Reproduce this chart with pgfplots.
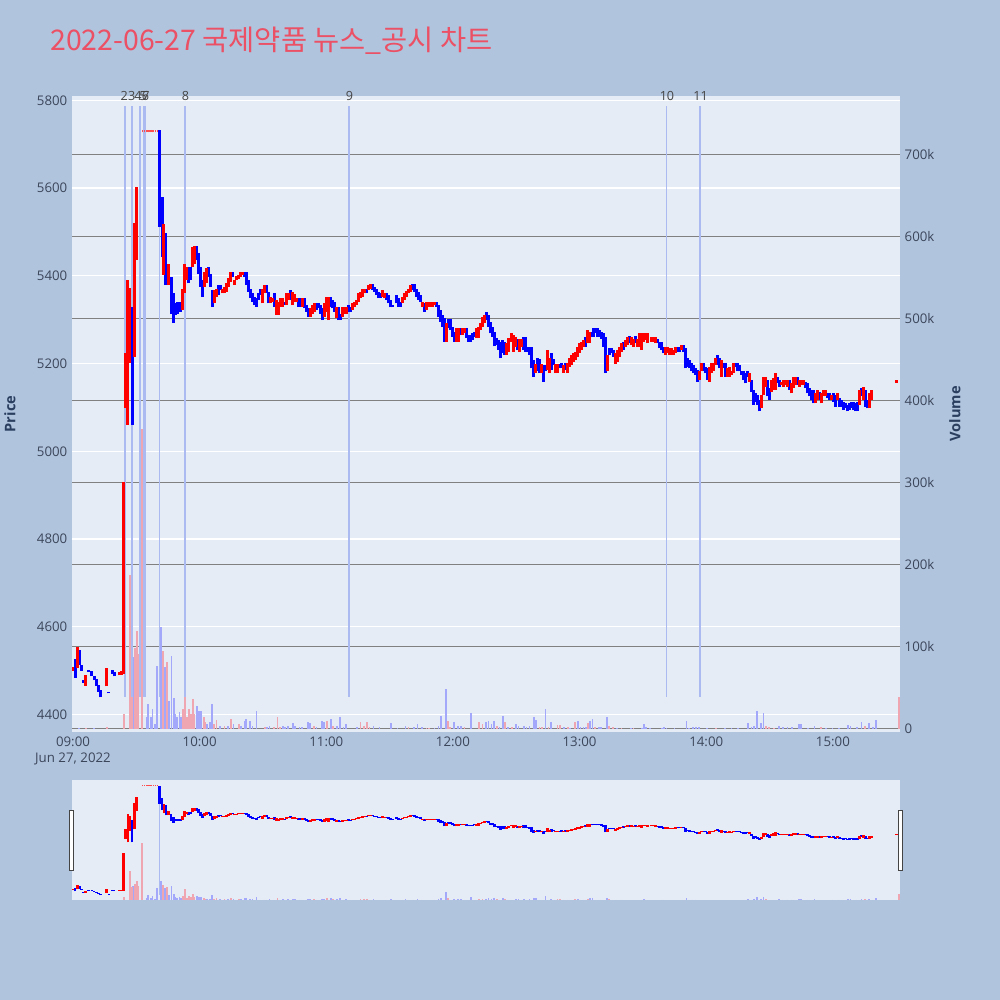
\documentclass[border=0pt]{standalone}
\usepackage{fontspec}
\setmainfont{Open Sans}
\newfontfamily\cjk{Noto Sans CJK KR}
\usepackage{pgfplots}
\usepackage{pgfplotstable}
\pgfplotsset{compat=1.18}

\definecolor{pagebg}{RGB}{176,196,222}
\definecolor{plotbg}{RGB}{229,236,246}
\definecolor{cred}{RGB}{255,0,0}
\definecolor{cblue}{RGB}{0,0,255}
\definecolor{vred}{RGB}{240,166,176}
\definecolor{vblue}{RGB}{163,168,250}
\definecolor{newsc}{RGB}{172,186,242}
\definecolor{tickc}{RGB}{60,70,90}
\definecolor{annc}{RGB}{68,68,68}
\definecolor{titlec}{RGB}{235,80,100}
\definecolor{axtitle}{RGB}{42,63,95}
\definecolor{vgrid}{RGB}{128,128,128}

\pgfplotstableread{
x lo hi
0 4498 4509
2 4507 4553
6 4466 4491
16 4464 4505
22 4489 4496
23 4491 4498
24 4493 4930
25 5099 5224
26 5060 5390
27 5201 5372
29 5215 5520
30 5436 5602
43.1 5402 5519
45.2 5379 5428
52.0 5322 5371
52.9 5360 5428
53.8 5390 5421
56.5 5421 5466
57.5 5428 5468
62.2 5375 5409
63.2 5383 5417
67.0 5337 5367
67.9 5352 5371
70.7 5360 5371
71.7 5360 5375
72.6 5364 5383
73.6 5375 5394
74.5 5386 5409
76.4 5379 5390
77.4 5390 5399
78.3 5392 5402
79.3 5398 5409
80.2 5402 5409
89.7 5337 5371
90.6 5360 5379
93.5 5337 5352
94.4 5341 5349
96.3 5311 5345
97.3 5311 5341
98.2 5330 5349
99.2 5330 5349
101.1 5333 5360
102.0 5345 5360
103.9 5333 5364
104.8 5341 5358
105.8 5341 5349
108.6 5330 5349
112.4 5307 5326
113.4 5314 5333
114.3 5318 5339
119.1 5307 5339
120.0 5318 5352
121.0 5299 5352
124.7 5303 5330
127.6 5307 5330
128.5 5314 5330
129.5 5314 5330
132.3 5322 5337
133.3 5330 5341
134.2 5333 5346
135.2 5341 5360
136.1 5349 5364
137.1 5352 5371
138.0 5360 5371
139.9 5368 5379
140.9 5369 5381
146.6 5352 5368
147.5 5349 5360
156.0 5337 5352
157.0 5345 5360
157.9 5351 5366
158.9 5360 5371
159.8 5364 5379
165.5 5330 5341
167.4 5322 5341
168.3 5330 5341
169.3 5330 5341
170.2 5330 5341
171.2 5333 5341
176.9 5250 5292
181.6 5250 5280
182.6 5250 5280
184.4 5265 5280
185.4 5269 5280
191.1 5258 5280
192.0 5258 5284
193.0 5276 5292
193.9 5284 5307
194.9 5292 5311
205.3 5220 5246
206.2 5227 5258
207.6 5250 5269
208.7 5227 5265
209.7 5238 5261
211.6 5227 5257
212.5 5238 5257
219.2 5178 5200
222.0 5178 5200
224.8 5185 5231
225.8 5178 5212
228.6 5178 5200
229.6 5178 5200
232.4 5178 5197
234.3 5178 5202
235.3 5193 5212
236.2 5197 5220
237.2 5204 5223
238.1 5208 5227
239.1 5216 5238
240.0 5223 5246
241.0 5231 5250
241.9 5238 5254
243.8 5246 5276
244.7 5246 5273
253.3 5182 5220
257.1 5200 5223
258.0 5204 5231
259.0 5216 5238
259.9 5227 5246
261.8 5238 5254
262.7 5242 5261
264.6 5242 5261
265.6 5238 5257
267.5 5238 5257
268.4 5238 5269
269.4 5231 5269
270.3 5250 5269
271.3 5254 5269
272.2 5246 5269
274.1 5250 5261
275.1 5250 5261
276.0 5246 5261
280.7 5220 5238
281.7 5223 5238
282.6 5220 5235
283.6 5220 5235
284.5 5220 5231
285.5 5223 5238
288.1 5231 5242
296.8 5163 5182
297.8 5182 5201
301.6 5159 5193
302.5 5178 5201
303.4 5182 5201
304.4 5197 5212
307.2 5170 5208
310.1 5170 5189
311.0 5170 5193
312.0 5174 5182
312.9 5178 5201
320.5 5159 5178
326.2 5098 5128
327.1 5128 5170
328.1 5147 5170
330.9 5136 5163
331.9 5140 5166
332.8 5140 5178
335.7 5151 5159
336.6 5147 5163
337.6 5151 5163
338.5 5147 5163
340.4 5132 5155
341.3 5144 5170
342.3 5151 5170
344.2 5147 5163
345.1 5151 5163
346.1 5151 5163
351.8 5109 5132
352.7 5117 5140
354.6 5109 5132
355.6 5125 5140
356.5 5125 5140
359.3 5117 5128
362.2 5117 5132
372.6 5106 5140
374.5 5117 5147
377.3 5098 5132
378.4 5117 5140
390 5156 5162
}\redC

\pgfplotstableread{
x lo hi
1 4484 4527
3 4512 4546
4 4500 4512
5 4472 4478
7.5 4497 4502
9 4487 4498
10 4478 4487
11 4466 4480
12 4452 4468
13 4439 4455
17 4448 4452
18.5 4493 4502
19.5 4487 4496
28 5060 5330
41.0 5512 5732
42.2 5443 5580
44.0 5379 5497
46.5 5314 5398
47.5 5292 5360
48.4 5311 5337
49.3 5314 5341
50.2 5318 5341
51.1 5318 5341
54.7 5383 5421
55.6 5390 5421
58.4 5436 5468
59.4 5405 5451
60.3 5375 5421
61.3 5352 5390
64.1 5398 5421
65.1 5375 5405
66.0 5330 5367
68.8 5356 5379
69.8 5367 5379
75.5 5398 5409
81.2 5398 5409
82.1 5379 5409
83.0 5364 5390
84.0 5349 5371
85.0 5341 5360
85.9 5333 5352
86.8 5330 5349
87.8 5345 5360
88.7 5356 5371
91.6 5360 5379
92.5 5337 5364
95.4 5330 5360
100.1 5333 5341
103.0 5345 5367
106.7 5330 5349
107.7 5330 5349
109.6 5326 5349
110.5 5318 5333
111.5 5307 5326
115.3 5322 5339
116.2 5326 5339
117.2 5314 5333
118.1 5299 5326
121.9 5330 5352
122.8 5326 5345
123.8 5318 5341
125.7 5299 5330
126.6 5299 5314
130.6 5318 5333
131.4 5318 5330
139.0 5360 5371
141.8 5368 5381
142.8 5364 5375
143.7 5356 5369
144.7 5349 5364
145.6 5349 5360
148.4 5346 5360
149.4 5337 5356
150.3 5328 5345
151.3 5328 5333
153.2 5337 5356
154.1 5330 5349
155.1 5330 5341
160.8 5368 5381
161.7 5364 5381
162.7 5352 5371
163.6 5345 5364
164.6 5341 5356
166.4 5318 5337
172.1 5330 5341
173.1 5307 5333
174.0 5295 5322
175.0 5284 5311
175.9 5250 5303
177.8 5280 5301
178.8 5276 5301
179.7 5261 5284
180.7 5250 5273
183.5 5265 5280
186.3 5258 5280
187.3 5250 5265
188.2 5250 5265
189.2 5254 5269
190.1 5261 5273
195.8 5299 5318
196.8 5284 5311
197.7 5269 5295
198.7 5261 5284
199.6 5239 5273
200.6 5242 5258
201.5 5231 5254
202.5 5212 5250
203.4 5223 5254
204.3 5220 5250
210.6 5231 5257
213.5 5231 5261
214.4 5227 5261
215.4 5227 5238
216.3 5220 5238
217.3 5189 5238
218.2 5170 5208
220.1 5182 5212
221.1 5178 5210
222.9 5159 5197
223.9 5182 5197
226.7 5185 5223
227.7 5197 5210
230.5 5189 5200
231.5 5189 5202
233.4 5185 5202
242.8 5238 5261
245.7 5261 5273
246.6 5261 5280
247.6 5269 5280
248.5 5261 5280
249.5 5261 5276
250.4 5257 5273
251.4 5238 5269
252.3 5178 5261
254.2 5220 5235
255.2 5223 5235
256.1 5216 5231
260.8 5231 5250
263.7 5246 5263
266.5 5246 5263
277.0 5246 5257
277.9 5235 5250
278.8 5231 5250
279.8 5223 5238
286.4 5227 5238
287.4 5227 5238
289.2 5227 5242
290.2 5189 5235
291.1 5193 5212
292.1 5189 5208
293.0 5182 5201
294.0 5178 5197
294.9 5174 5189
295.9 5159 5185
298.7 5182 5201
299.7 5178 5193
300.6 5163 5189
305.3 5197 5220
306.3 5189 5212
308.2 5189 5201
309.1 5170 5201
313.9 5193 5201
314.8 5182 5201
315.8 5182 5197
316.7 5174 5182
317.7 5163 5182
318.6 5155 5178
319.6 5170 5182
321.4 5136 5163
322.4 5106 5140
323.3 5113 5132
324.3 5106 5128
325.2 5091 5117
329.0 5125 5163
330.0 5117 5144
333.8 5155 5170
334.7 5147 5163
339.5 5140 5163
343.2 5151 5170
347.0 5144 5159
348.0 5132 5155
348.9 5125 5144
349.9 5117 5140
350.8 5109 5140
353.7 5117 5136
357.5 5121 5132
358.4 5117 5132
360.3 5113 5132
361.2 5102 5128
363.1 5102 5121
364.1 5102 5117
365.0 5094 5113
366.0 5098 5109
366.9 5091 5106
367.9 5094 5109
368.8 5098 5113
369.8 5094 5113
370.7 5091 5109
371.7 5091 5113
373.6 5125 5144
375.5 5102 5140
376.4 5098 5117
}\blueC

\pgfplotstableread{
x lo hi
33 5727 5733
34 5727 5733
35 5727 5733
36 5727 5733
37 5727 5733
38 5727 5733
39 5727 5733
40 5727 5733
}\dotsC

\pgfplotstableread{
x lo hi
41 4440 5512
}\wickC

\pgfplotstableread{
x lo hi
24.6 4440 5787
28.1 4440 5787
31.7 4440 5787
33.6 4440 5787
34.2 4440 5787
53.2 4440 5787
130.7 4440 5787
281.2 4440 5787
297.0 4440 5787
}\newsT

\pgfplotstableread{
x v
6 1
16 1.5
24 18
27 188
27.8 81
29.4 99
30.3 119
31 91
32.8 366
42.8 95
44.7 81
52 24
52.9 68
53.9 14
54.8 24
55.9 18
56.7 36
57.6 18
61.9 14
62.7 8
66.8 6
68 10.6
71.8 3.7
75 11.8
78.6 5.7
91 2.4
95.2 2.4
96.9 14.6
98 2.4
114.3 3.7
120.3 9.8
123.3 3.7
136.2 7.7
137.7 3.7
139.2 7.7
140.5 2.4
159 2.4
167.5 0.8
168.5 0.8
177.7 9.8
178.7 2.4
185.5 1.6
192.3 7.7
194 5.7
200.8 3.7
204.7 7.7
207.9 2.4
221 2.4
222.1 2.4
225.3 1.6
229.5 4.9
230.6 4.9
234.4 1.6
238 7.7
244 6.5
247.2 2.4
254 3.7
255.7 1.6
259.9 0.8
265.6 0.8
304.5 0.8
328.3 3.7
329.6 2.4
332.2 0.8
354.5 2.4
375.1 3.7
391.3 39
}\volR

\pgfplotstableread{
x v
3 1
10 0.5
28.4 87
34.9 14
35.7 30
36.8 14
37.7 24
38.8 6
39.9 77
41.8 124
43.7 75
45.6 34
46.7 89
47.7 38
48.6 18
49.4 14
50.4 20
51 14
58.7 28
59.8 22
60.8 21
63.6 6
64.9 8
65.9 30
69.7 3.7
73.5 3.7
76.1 5.7
79.7 3.7
81.2 9.8
82.1 11.8
84 8.9
85 3.7
86.9 21.1
92 2.4
93.1 3.7
99.5 3.7
100.5 2.4
102 3.7
104.1 6.5
105.2 3.7
107.3 2.4
108.4 2.4
111.2 7.7
112.2 6.5
115.4 2.4
118 8.9
119 7.7
122.2 11.8
125 3.7
126.5 13.8
128.2 2.4
129.2 5.7
134.5 1.6
142.4 3.7
145.2 1.6
150.5 6.5
153.7 0.8
157.5 3.7
161.7 2.4
163.2 5.7
165.3 2.4
171.3 0.8
173.2 3.7
174.5 15.8
176.6 48.2
180.6 7.7
182.3 3.7
183.8 3.7
188.7 19.1
195.5 7.7
196.8 9.8
198.3 5.7
199.6 9.8
202.1 1.6
203.6 15.8
206.2 2.4
210 5.7
211 3.7
213.6 3.7
214.9 2.4
216.3 3.7
218.5 13.8
219.5 10.6
223.8 23.9
226.5 7.7
232.7 1.6
235.5 0.8
239.1 8.9
240.4 2.4
241.9 1.6
242.9 2.4
245 9.8
246.1 11.8
249.3 2.4
250.3 2.4
252.9 13.8
257.8 0.8
264.2 0.5
269.5 0.8
270.5 5.7
271.6 2.4
273.3 0.8
279 0.8
280.1 1.6
281.2 0.8
285 0.8
290.7 9.8
291.8 0.8
293.9 2.4
295 2.4
296.5 2.4
300.3 0.8
308.8 0.8
312 0.8
315.2 0.8
319.8 6.5
321.5 2.4
322.6 3.7
324.1 21.1
325.8 6.5
327.1 18.7
334.3 3.7
336.4 1.6
338.5 1.6
340.7 2.4
343.8 5.7
344.9 5.7
348.1 0.8
351.3 3.7
356.6 0.8
359.8 0.8
363 0.8
367.2 4.9
368.3 3.7
371.5 2.4
373.6 7.7
377.2 6.5
378.9 2.4
380.4 10.6
}\volB

\pgfplotsset{
  mainax/.style={at={(54bp,201bp)}, anchor=south west, width=621bp, height=477bp,
    scale only axis, xmin=-0.47, xmax=391.8},
  rsax/.style={at={(54bp,75bp)}, anchor=south west, width=621bp, height=90bp,
    scale only axis, xmin=-0.47, xmax=391.8, hide axis},
  bars/.style 2 args={draw=none, mark=none, forget plot,
    error bars/.cd, y dir=plus, y explicit, error mark=none,
    error bar style={draw=#1, line width=#2}},
}
\tikzset{newslab/.style={anchor=base, inner sep=0, text=annc, font=\fontsize{9.5}{10}\selectfont}}

\begin{document}
\begin{tikzpicture}
\fill[pagebg] (0,0) rectangle (750bp,750bp);

% main axis: background, price grid, ticks
\begin{axis}[mainax, ymin=4360, ymax=5810,
  axis background/.style={fill=plotbg},
  axis line style={draw=none}, major tick length=0pt,
  ytick={4400,4600,...,5800},
  yticklabels={4400,4600,4800,5000,5200,5400,5600,5800},
  ymajorgrids, major grid style={white, line width=1bp},
  xtick={0,60,...,360},
  xticklabels={{09:00\\Jun 27, 2022},10:00,11:00,12:00,13:00,14:00,15:00},
  xticklabel style={align=center, font=\fontsize{10}{12}\selectfont, text=tickc},
  yticklabel style={font=\fontsize{10}{12}\selectfont, text=tickc},
  ylabel={\bfseries Price},
  ylabel style={at={(axis description cs:-0.0749,0.5)}, anchor=center,
    font=\fontsize{11}{13}\selectfont, text=axtitle},
]
\addplot[draw=none, forget plot] coordinates {(0,4400)};
\end{axis}

% volume axis
\begin{axis}[mainax, ymin=-4, ymax=771.6,
  axis y line*=right, axis x line=none,
  axis line style={draw=none}, major tick length=0pt,
  ytick={100,200,...,700},
  yticklabels={100k,200k,300k,400k,500k,600k,700k},
  extra y ticks={0}, extra y tick labels={0},
  extra y tick style={grid style={white, line width=1.2bp}},
  ymajorgrids, major grid style={vgrid, line width=1bp},
  yticklabel style={font=\fontsize{10}{12}\selectfont, text=tickc},
  ylabel={\bfseries Volume},
  ylabel style={at={(axis description cs:1.0664,0.5)}, anchor=center,
    font=\fontsize{11}{13}\selectfont, text=axtitle},
]
\addplot[bars={vblue}{1.3bp}] table[x=x, y expr=0, y error=v] {\volB};
\addplot[bars={vred}{1.3bp}] table[x=x, y expr=0, y error=v] {\volR};
\end{axis}

% price overlay: news lines and candles
\begin{axis}[mainax, ymin=4360, ymax=5810, hide axis, clip mode=individual]
\addplot[bars={newsc}{1.4bp}] table[x=x, y=lo, y error expr=\thisrow{hi}-\thisrow{lo}] {\newsT};
\addplot[bars={newsc}{1.2bp}] table[x=x, y=lo, y error expr=\thisrow{hi}-\thisrow{lo}] {\wickC};
\addplot[bars={cblue}{2.25bp}] table[x=x, y=lo, y error expr=\thisrow{hi}-\thisrow{lo}] {\blueC};
\addplot[bars={cred}{2.25bp}] table[x=x, y=lo, y error expr=\thisrow{hi}-\thisrow{lo}] {\redC};
\addplot[bars={cred!70}{1.1bp}] table[x=x, y=lo, y error expr=\thisrow{hi}-\thisrow{lo}] {\dotsC};
\node[newslab] at (axis cs:24.3,5799) {2};
\node[newslab] at (axis cs:27.8,5799) {3};
\node[newslab] at (axis cs:30.8,5799) {4};
\node[newslab] at (axis cs:33.2,5799) {5};
\node[newslab] at (axis cs:34.3,5799) {6};
\node[newslab] at (axis cs:34.6,5799) {7};
\node[newslab] at (axis cs:53.3,5799) {8};
\node[newslab] at (axis cs:131,5799) {9};
\node[newslab] at (axis cs:281.4,5799) {10};
\node[newslab] at (axis cs:297.3,5799) {11};
\end{axis}

% range slider
\fill[plotbg] (54bp,75bp) rectangle (675bp,165bp);
\begin{axis}[rsax, ymin=0, ymax=766]
\addplot[bars={vblue}{1.3bp}] table[x=x, y expr=0, y error=v] {\volB};
\addplot[bars={vred}{1.3bp}] table[x=x, y expr=0, y error=v] {\volR};
\end{axis}
\begin{axis}[rsax, ymin=4381, ymax=5797]
\addplot[bars={newsc}{0.8bp}] table[x=x, y=lo, y error expr=\thisrow{hi}-\thisrow{lo}] {\wickC};
\addplot[bars={cblue}{2bp}] table[x=x, y=lo, y error expr=\thisrow{hi}-\thisrow{lo}] {\blueC};
\addplot[bars={cred}{2bp}] table[x=x, y=lo, y error expr=\thisrow{hi}-\thisrow{lo}] {\redC};
\addplot[bars={cred!70}{1.0bp}] table[x=x, y=lo, y error expr=\thisrow{hi}-\thisrow{lo}] {\dotsC};
\end{axis}
\draw[fill=white, draw=annc, line width=0.7bp] (52.2bp,97.5bp) rectangle (55.2bp,142.5bp);
\draw[fill=white, draw=annc, line width=0.7bp] (674bp,97.5bp) rectangle (677bp,142.5bp);

% title
\node[anchor=base west, inner sep=0, text=titlec, font=\cjk\fontsize{21.4}{25}\selectfont]
  at (37.5bp,711.75bp) {2022-06-27 국제약품 뉴스\_공시 차트};

\pgfresetboundingbox
\path[use as bounding box] (0,0) rectangle (750bp,750bp);
\end{tikzpicture}
\end{document}
